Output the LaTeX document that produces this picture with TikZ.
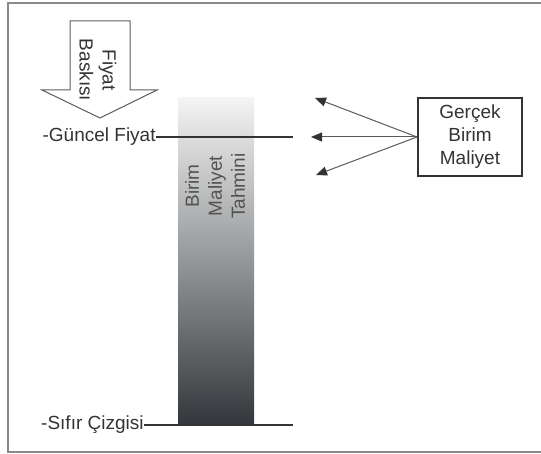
\documentclass[tikz,border=0pt]{standalone}
\usepackage{fontspec}
\setmainfont{Liberation Sans}
\usetikzlibrary{arrows.meta}
\definecolor{ink}{HTML}{333333}
\definecolor{frameGray}{HTML}{8A8A8A}
\definecolor{barTop}{HTML}{F4F4F4}
\definecolor{barBottom}{HTML}{33373B}
\definecolor{ptrGray}{HTML}{5A5A5A}

\begin{document}
\begin{tikzpicture}[
  x=0.5pt, y=-0.5pt,
  txt/.style={inner sep=0pt, text=ink, font=\fontsize{9.5}{11.5}\selectfont, align=center},
  level/.style={line width=1.1pt, color=ink},
  bar/.style={minimum width=38pt, minimum height=163.5pt, inner sep=0pt, top color=barTop, bottom color=barBottom},
  box/.style={draw=ink, line width=1pt, minimum width=52pt, minimum height=39pt, inner sep=0pt, align=center, text=ink, font=\fontsize{9.5}{11.5}\selectfont},
  ptr/.style={-{Triangle[length=5.5pt, width=4.5pt, color=ink]}, color=ptrGray, line width=0.5pt},
  blockarrow/.style={draw=ink!80, line width=0.5pt, fill=white}
]
  \useasboundingbox (0,0) rectangle (541,454);
  \draw[frameGray, line width=1pt] (541,3) -- (8,3) -- (8,452) -- (541,452);

  % price pressure
  \draw[blockarrow] (70,21) -- (130,21) -- (130,90) -- (157,90) -- (100,118) -- (42,90) -- (70,90) -- cycle;
  \node[txt, rotate=-90] (baski) at (98,70) {Fiyat\\Baskısı};

  % unit cost estimate bar
  \node[bar] (tahmin) at (216,261.5) {};
  \node[txt, rotate=90, text=ink!85] (tahminTxt) at (215,186) {Birim\\Maliyet\\Tahmini};

  % levels
  \node[txt, anchor=east] (guncel) at (156,137) {-Güncel Fiyat};
  \coordinate (guncelEnd) at (293,137);
  \draw[level] (guncel.east) -- (guncelEnd);

  \node[txt, anchor=east] (sifir) at (144,425) {-Sıfır Çizgisi};
  \coordinate (sifirEnd) at (293,425);
  \draw[level] (sifir.east) -- (sifirEnd);

  % real unit cost
  \node[box] (gercek) at (470,137) {Gerçek\\Birim\\Maliyet};
  \coordinate (tipUp) at (315,98);
  \coordinate (tipMid) at (311,137);
  \coordinate (tipDown) at (316,175);
  \draw[ptr] (gercek.west) -- (tipUp);
  \draw[ptr] (gercek.west) -- (tipMid);
  \draw[ptr] (gercek.west) -- (tipDown);
\end{tikzpicture}
\end{document}
